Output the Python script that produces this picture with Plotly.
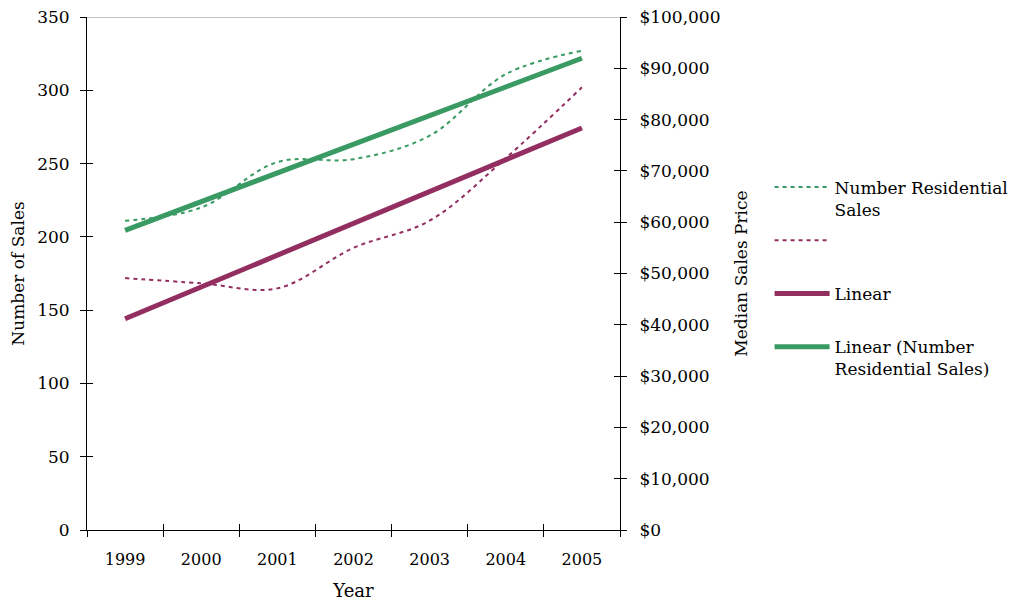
import numpy as np
import plotly.graph_objects as go

# Annual figures
years = ["1999", "2000", "2001", "2002", "2003", "2004", "2005"]
residential_sales = [211, 220, 251, 253, 269, 311, 327]
median_price = [49100, 48100, 47100, 55000, 60300, 72500, 86300]

GREEN = "#3a9a63"
PURPLE = "#922f60"
FONT = "DejaVu Serif"

# Least-squares linear trends, as a spreadsheet trendline would compute them
idx = np.arange(len(years))
sales_fit = np.polyval(np.polyfit(idx, residential_sales, 1), idx)
price_fit = np.polyval(np.polyfit(idx, median_price, 1), idx)

fig = go.Figure()
fig.add_trace(go.Scatter(
    x=years, y=residential_sales, name="Number Residential<br>Sales",
    mode="lines", line=dict(color=GREEN, width=2, dash="4px,4px", shape="spline"),
    legendgroup="a"))
fig.add_trace(go.Scatter(
    x=years, y=median_price, name=" <br> ", yaxis="y2",
    mode="lines", line=dict(color=PURPLE, width=2, dash="4px,4px", shape="spline"),
    legendgroup="b"))
# trend lines live on overlay axes (same ranges) that carry the inner tick halves
fig.add_trace(go.Scatter(
    x=years, y=price_fit, name="Linear<br> ", xaxis="x2", yaxis="y4",
    mode="lines", line=dict(color=PURPLE, width=5),
    legendgroup="c"))
fig.add_trace(go.Scatter(
    x=years, y=sales_fit, name="Linear (Number<br>Residential Sales)",
    xaxis="x2", yaxis="y3",
    mode="lines", line=dict(color=GREEN, width=5),
    legendgroup="d"))

axis_common = dict(showgrid=False, zeroline=False, linecolor="black",
                   tickcolor="black", ticklen=6, tickwidth=1, automargin=False)

x_common = dict(type="category", categoryorder="array", categoryarray=years,
                range=[-0.5, 6.5], tickson="boundaries")
y_common = dict(range=[0, 350], dtick=50)
y2_common = dict(range=[0, 100000], dtick=10000)

fig.update_layout(
    width=1013, height=603,
    margin=dict(l=87, r=393, t=17, b=73, autoexpand=False),
    paper_bgcolor="white", plot_bgcolor="white",
    font=dict(family=FONT, size=16, color="black"),
    showlegend=True,
    legend=dict(xref="container", yref="container", x=0.7597, y=0.7188,
                xanchor="left", yanchor="top",
                traceorder="grouped", tracegroupgap=6, valign="top",
                itemwidth=55,
                font=dict(family=FONT, size=17), bgcolor="rgba(0,0,0,0)"),
    xaxis=dict(**x_common, showline=True, ticks="outside", ticklabelstandoff=15,
               tickfont=dict(family=FONT, size=16),
               title=dict(text="Year", standoff=16, font=dict(family=FONT, size=18)),
               **axis_common),
    xaxis2=dict(**x_common, overlaying="x", anchor="y", ticks="inside",
                showticklabels=False, showline=False, **axis_common),
    yaxis=dict(**y_common, showline=True, ticks="outside", ticklabelstandoff=7,
               tickfont=dict(family=FONT, size=17),
               title=dict(text="Number of Sales", font=dict(family=FONT, size=17),
                          standoff=8),
               **axis_common),
    yaxis3=dict(**y_common, overlaying="y", anchor="x2", side="left",
                ticks="inside", showticklabels=False, showline=False,
                **axis_common),
    yaxis2=dict(**y2_common, overlaying="y", side="right", anchor="x",
                tickprefix="$", tickformat=",d", showline=True,
                ticks="outside", ticklabelstandoff=9,
                tickfont=dict(family=FONT, size=17),
                title=dict(text="Median Sales Price", font=dict(family=FONT, size=17),
                           standoff=15),
                **axis_common),
    yaxis4=dict(**y2_common, overlaying="y", side="right", anchor="x2",
                ticks="inside", showticklabels=False, showline=False,
                **axis_common),
)

# grey frame line along the top of the plot area
fig.add_shape(type="line", xref="paper", yref="y", x0=0, x1=1, y0=350, y1=350,
              line=dict(color="#888888", width=1))

fig.write_html("out.html")
